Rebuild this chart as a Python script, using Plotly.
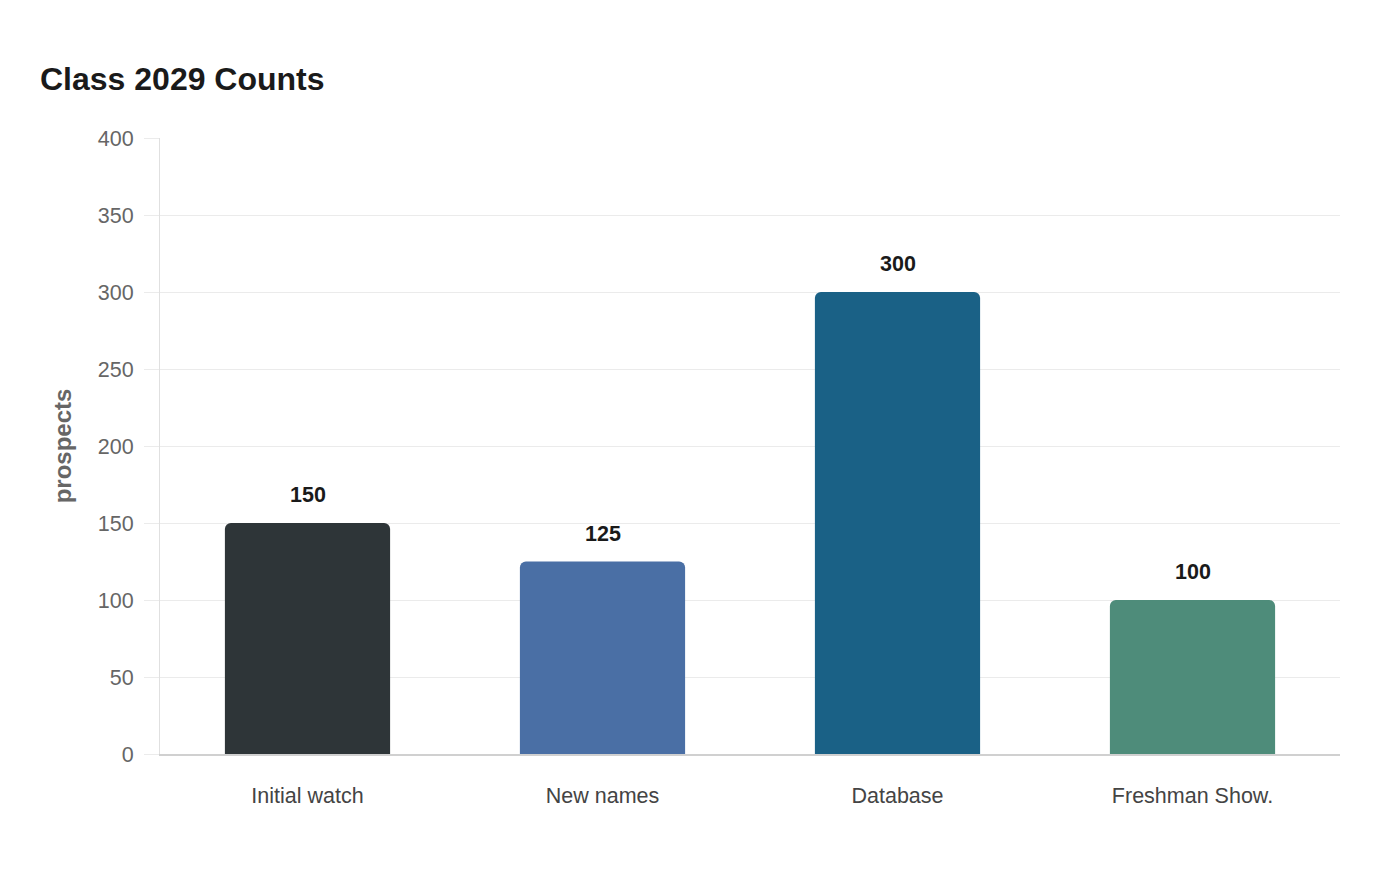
import plotly.graph_objects as go

categories = ["Initial watch", "New names", "Database", "Freshman Show."]
values = [150, 125, 300, 100]
colors = ["#2e3538", "#4a6fa5", "#1a6186", "#4e8c7a"]
y_ticks = [0, 50, 100, 150, 200, 250, 300, 350, 400]

FONT = "Liberation Sans, Arial, sans-serif"

fig = go.Figure()
fig.add_trace(go.Bar(
    x=categories, y=values,
    marker=dict(color=colors, line=dict(width=0)),
    hoverinfo="x+y",
))

for c, v in zip(categories, values):
    fig.add_annotation(x=c, y=v, text=f"<b>{v}</b>", showarrow=False,
                       yshift=28, font=dict(family=FONT, size=21.5, color="#1a1a1a"))

fig.update_layout(
    width=1400, height=880,
    paper_bgcolor="white", plot_bgcolor="white",
    margin=dict(l=160, r=60, t=138, b=126),
    bargap=0.44,
    barcornerradius=6,
    showlegend=False,
    title=dict(text="<b>Class 2029 Counts</b>", x=40/1400, xref="container", xanchor="left",
               y=1-79/880, yref="container", yanchor="middle",
               font=dict(family=FONT, size=32, color="#1a1a1a")),
    font=dict(family=FONT),
)

fig.update_xaxes(
    showgrid=False, showline=True, linecolor="#d0d0d0", linewidth=1.5,
    tickfont=dict(family=FONT, size=21.5, color="#444444"),
    ticks="", ticklabelstandoff=21,
)
fig.update_yaxes(
    range=[0, 400], tickvals=y_ticks,
    showgrid=True, gridcolor="#ebebeb", gridwidth=1,
    showline=True, linecolor="#e0e0e0", linewidth=1,
    ticks="outside", ticklen=15, tickcolor="#ebebeb",
    zeroline=False, ticklabelstandoff=6,
    tickfont=dict(family=FONT, size=21.5, color="#666666"),
    title=dict(text="<b>prospects</b>", font=dict(family=FONT, size=24, color="#666666"), standoff=19),
)

fig.write_html("out.html")
